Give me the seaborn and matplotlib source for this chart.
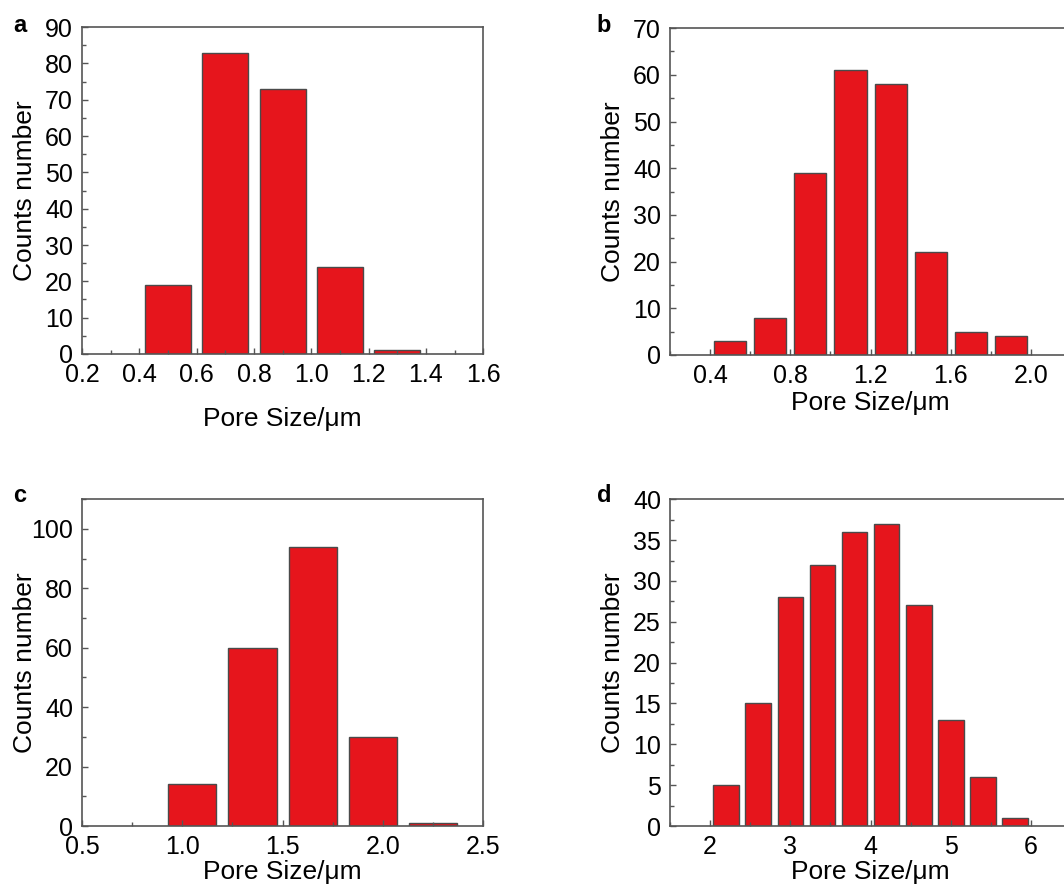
import matplotlib
matplotlib.use("Agg")
import matplotlib.pyplot as plt
import seaborn as sns
import pandas as pd
from matplotlib.ticker import MultipleLocator, FormatStrFormatter

sns.set_style("ticks")
plt.rcParams['font.family'] = ['Liberation Sans', 'DejaVu Sans']
plt.rcParams['text.color'] = 'black'
plt.rcParams['axes.labelcolor'] = 'black'

# Data
a_size = [0.5, 0.7, 0.9, 1.1, 1.3]
a_count = [19, 83, 73, 24, 1]
b_size = [0.5, 0.7, 0.9, 1.1, 1.3, 1.5, 1.7, 1.9]
b_count = [3, 8, 39, 61, 58, 22, 5, 4]
c_size = [1.05, 1.35, 1.65, 1.95, 2.25]
c_count = [14, 60, 94, 30, 1]
d_size = [2.2, 2.6, 3.0, 3.4, 3.8, 4.2, 4.6, 5.0, 5.4, 5.8]
d_count = [5, 15, 28, 32, 36, 37, 27, 13, 6, 1]

BAR = "#E6151C"
EDGE = "#4a4a4a"
SPINE = "#555555"

fig = plt.figure(figsize=(10.64, 8.88), dpi=100)

W = 0.377
H = 0.368
axes_pos = {
    'a': [0.0771, 0.6014, W, H],
    'b': [0.6297, 0.6003, W, H],
    'c': [0.0771, 0.0698, W, H],
    'd': [0.6297, 0.0698, W, H],
}

cfg = {
    'a': dict(x=a_size, y=a_count, xlim=(0.2, 1.6), ylim=(0, 90), xmaj=0.2, xmin=0.1,
              ymaj=10, ymin=5, xfmt='%.1f', xl_y=-0.199),
    'b': dict(x=b_size, y=b_count, xlim=(0.2, 2.2), ylim=(0, 70), xmaj=0.4, xmin=0.2,
              ymaj=10, ymin=5, xfmt='%.1f', xl_y=-0.147),
    'c': dict(x=c_size, y=c_count, xlim=(0.5, 2.5), ylim=(0, 110), xmaj=0.5, xmin=0.25,
              ymaj=20, ymin=10, xfmt='%.1f', xl_y=-0.141),
    'd': dict(x=d_size, y=d_count, xlim=(1.5, 6.5), ylim=(0, 40), xmaj=1, xmin=0.5,
              ymaj=5, ymin=2.5, xfmt='%d', xl_y=-0.141),
}

letters_pos = {'a': (0.012, 0.964), 'b': (0.561, 0.964),
               'c': (0.012, 0.4347), 'd': (0.561, 0.4347)}

for key in ['a', 'b', 'c', 'd']:
    c = cfg[key]
    ax = fig.add_axes(axes_pos[key])
    df = pd.DataFrame({'size': c['x'], 'count': c['y']})
    sns.barplot(data=df, x='size', y='count', native_scale=True, width=0.8,
                color=BAR, saturation=1, edgecolor=EDGE, linewidth=1.0,
                errorbar=None, ax=ax)
    ax.set_xlim(*c['xlim'])
    ax.set_ylim(*c['ylim'])
    ax.xaxis.set_major_locator(MultipleLocator(c['xmaj']))
    ax.xaxis.set_minor_locator(MultipleLocator(c['xmin']))
    ax.yaxis.set_major_locator(MultipleLocator(c['ymaj']))
    ax.yaxis.set_minor_locator(MultipleLocator(c['ymin']))
    ax.xaxis.set_major_formatter(FormatStrFormatter(c['xfmt']))
    ax.yaxis.set_major_formatter(FormatStrFormatter('%d'))
    ax.set_axisbelow(False)
    ax.tick_params(which='major', direction='in', length=4, width=1, color=SPINE,
                   labelcolor='black', labelsize=18, top=False, right=False)
    ax.tick_params(axis='x', which='major', pad=6.5)
    ax.tick_params(axis='y', which='major', pad=6.5)
    ax.tick_params(which='minor', direction='in', length=3, width=1, color=SPINE,
                   top=False, right=False)
    for s in ax.spines.values():
        s.set_visible(True)
        s.set_color(SPINE)
        s.set_linewidth(1.2)
    ax.set_xlabel('Pore Size/μm', fontsize=19)
    ax.set_ylabel('Counts number', fontsize=19)
    ax.xaxis.label.set_va('center')
    ax.yaxis.label.set_va('center')
    ax.xaxis.set_label_coords(0.5, c['xl_y'])
    ax.yaxis.set_label_coords(-0.142, 0.5)
    lx, ly = letters_pos[key]
    fig.text(lx, ly, key, fontsize=17, fontweight='bold', va='baseline', ha='left')

fig.savefig('out.png', dpi=100)
